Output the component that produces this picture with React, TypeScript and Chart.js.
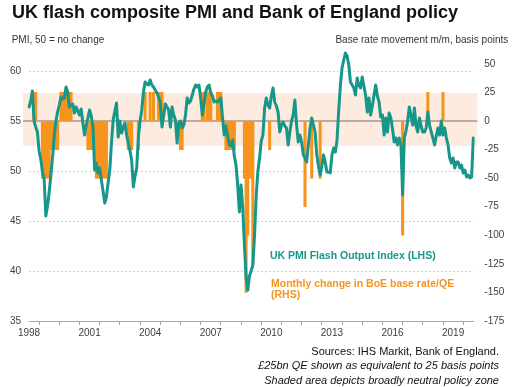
import React, { useEffect, useRef } from 'react';
import { Chart, registerables } from 'chart.js';

Chart.register(...registerables);

// ---------- DATA ----------
const START_YEAR = 1998;

// UK flash composite PMI, monthly from Jan 1998 (LHS)
const PMI_1998_2002: number[] = [
  56.4, 57.0, 58.0, 55.0, 54.4, 53.9, 52.0, 51.2, 49.9, 49.2, 45.5, 46.5,
  47.9, 49.6, 51.4, 53.5, 55.0, 55.9, 56.6, 57.4, 57.2, 57.3, 58.4, 57.9,
  56.4, 56.6, 56.7, 55.8, 56.4, 56.0, 55.6, 56.2, 54.8, 53.6, 54.6, 55.3,
  56.1, 55.5, 54.4, 50.1, 50.8, 49.8, 50.3, 49.1, 48.0, 46.8, 47.4, 48.8,
  50.1, 52.8, 55.1, 56.0, 56.8, 53.4, 55.0, 53.8, 54.4, 54.8, 53.6, 52.8,
];
const PMI_2003_2007: number[] = [
  52.0, 51.1, 48.4, 49.5, 50.3, 53.4, 55.0, 56.1, 57.9, 58.9, 58.7, 58.6,
  59.1, 58.6, 58.4, 58.1, 57.8, 57.4, 56.9, 54.4, 55.5, 56.7, 56.4, 56.1,
  54.4, 56.4, 55.6, 55.1, 52.8, 54.8, 55.0, 54.3, 54.6, 55.6, 57.3, 56.8,
  57.0, 57.6, 58.2, 58.6, 58.4, 58.6, 57.3, 55.6, 56.7, 57.9, 58.4, 58.6,
  57.8, 57.5, 56.9, 57.0, 56.9, 57.1, 57.3, 55.3, 53.6, 54.5, 53.6, 52.6,
];
const PMI_2008_2012: number[] = [
  52.5, 53.1, 51.5, 50.6, 48.6, 45.9, 48.6, 46.3, 42.6, 39.3, 38.1, 39.5,
  40.0, 40.6, 43.5, 47.5, 50.0, 51.3, 53.0, 53.6, 56.3, 57.3, 56.6, 56.3,
  57.5, 58.3, 56.9, 56.5, 55.9, 53.9, 54.6, 54.9, 54.5, 54.3, 52.6, 53.9,
  55.0, 55.6, 57.1, 54.6, 52.9, 53.6, 52.9, 51.6, 51.3, 50.9, 52.6, 54.3,
  55.3, 54.6, 53.9, 51.6, 50.5, 49.6, 50.5, 51.6, 50.9, 49.9, 49.9, 49.8,
];
const PMI_2013_2017: number[] = [
  51.6, 52.3, 51.9, 53.0, 56.0, 58.5, 60.3, 61.1, 61.8, 61.5, 60.6, 58.9,
  58.6, 58.3, 57.6, 59.3, 58.6, 58.3, 59.4, 58.5, 57.6, 55.9, 57.3, 55.6,
  56.5, 57.6, 58.6, 57.5, 56.9, 55.4, 55.6, 53.6, 55.3, 53.9, 55.8, 55.3,
  54.2, 52.9, 53.3, 52.6, 53.3, 52.6, 47.6, 53.3, 54.0, 55.0, 56.4, 55.5,
  54.6, 56.3, 54.5, 53.9, 55.3, 54.5, 53.9, 53.9, 54.3, 55.9, 54.6, 53.9,
];
const PMI_2018_2020: number[] = [
  53.3, 52.6, 53.5, 54.3, 53.6, 55.0, 53.6, 54.3, 53.3, 52.6, 51.3, 50.8,
  51.3, 50.3, 50.9, 50.9, 50.3, 50.6, 49.8, 50.1, 49.4, 49.6, 49.3, 49.4,
  53.3,
];
const PMI: number[] = [
  ...PMI_1998_2002, ...PMI_2003_2007, ...PMI_2008_2012, ...PMI_2013_2017, ...PMI_2018_2020,
];

// Monthly change in BoE base rate / QE, basis points (RHS)
const POLICY_MOVES: [string, number][] = [
  ['1998-04', 25], ['1998-05', 25],
  ['1998-09', -50], ['1998-10', -50], ['1998-11', -50], ['1998-12', -50], ['1999-01', -50],
  ['1999-02', -25], ['1999-03', -25], ['1999-04', -25], ['1999-05', -25], ['1999-06', -25],
  ['1999-08', 25], ['1999-09', 25], ['1999-10', 25], ['1999-11', 25], ['1999-12', 25], ['2000-01', 25], ['2000-02', 25],
  ['2000-12', -25], ['2001-01', -25], ['2001-02', -25], ['2001-03', -25], ['2001-04', -25],
  ['2001-05', -50], ['2001-06', -50], ['2001-07', -50], ['2001-08', -50], ['2001-09', -50], ['2001-10', -50], ['2001-11', -50],
  ['2002-12', -25], ['2003-01', -25], ['2003-02', -25], ['2003-06', -25],
  ['2003-10', 25], ['2004-01', 25], ['2004-03', 25], ['2004-06', 25], ['2004-07', 25], ['2004-08', 25],
  ['2005-07', -25], ['2005-08', -25],
  ['2006-08', 25], ['2006-09', 25], ['2006-11', 25], ['2006-12', 25], ['2007-01', 25],
  ['2007-05', 25], ['2007-06', 25], ['2007-07', 25],
  ['2007-10', -25], ['2007-11', -25], ['2007-12', -25], ['2008-01', -25], ['2008-02', -25], ['2008-03', -25],
  ['2008-09', -50], ['2008-10', -150], ['2008-11', -100], ['2008-12', -50], ['2009-01', -50], ['2009-02', -125],
  ['2009-12', -25],
  ['2011-09', -75], ['2012-01', -50], ['2012-06', -50],
  ['2016-07', -100],
  ['2017-10', 25], ['2018-07', 25],
];

const X_LABEL_YEARS = [1998, 2001, 2004, 2007, 2010, 2013, 2016, 2019];
const LEFT_TICKS = [35, 40, 45, 50, 55, 60];
const RIGHT_TICKS = [-175, -150, -125, -100, -75, -50, -25, 0, 25, 50];
const NEUTRAL_ZONE_PMI = [52.5, 57.8];

// ---------- STYLE ----------
const TEAL = '#17968a';
const ORANGE = '#f7941d';
const BAND = '#fdebdf';
const ZERO_LINE = '#a89888';
const FONT = '"Liberation Sans", Arial, Helvetica, sans-serif';

const MONTHS: string[] = PMI.map((_, i) => {
  const y = START_YEAR + Math.floor(i / 12);
  const m = (i % 12) + 1;
  return `${y}-${m < 10 ? '0' + m : m}`;
});
const MOVE_MAP = new Map<string, number>(POLICY_MOVES);
const POLICY: (number | null)[] = MONTHS.map((mth) => (MOVE_MAP.has(mth) ? (MOVE_MAP.get(mth) as number) : null));

const backgroundPlugin = {
  id: 'bgBandAndZero',
  beforeDraw(chart: any) {
    const { ctx, chartArea, scales } = chart;
    const yL = scales.yL;
    const top = yL.getPixelForValue(NEUTRAL_ZONE_PMI[1]);
    const bot = yL.getPixelForValue(NEUTRAL_ZONE_PMI[0]);
    ctx.save();
    ctx.fillStyle = BAND;
    ctx.fillRect(chartArea.left - 6, top, chartArea.right - chartArea.left + 10, bot - top);
    ctx.restore();
  },
  beforeDatasetsDraw(chart: any) {
    const { ctx, chartArea, scales } = chart;
    const y = scales.yR.getPixelForValue(0);
    ctx.save();
    ctx.strokeStyle = ZERO_LINE;
    ctx.lineWidth = 1.5;
    ctx.beginPath();
    ctx.moveTo(chartArea.left - 6, y);
    ctx.lineTo(chartArea.right + 4, y);
    ctx.stroke();
    ctx.restore();
  },
};

function ChartCanvas() {
  const ref = useRef<HTMLCanvasElement | null>(null);
  useEffect(() => {
    if (!ref.current) return;
    const tickFont = { family: FONT, size: 10 };
    const chart = new Chart(ref.current, {
      type: 'bar',
      data: {
        labels: MONTHS,
        datasets: [
          {
            type: 'line',
            label: 'UK PMI Flash Output Index (LHS)',
            data: PMI,
            yAxisID: 'yL',
            borderColor: TEAL,
            backgroundColor: TEAL,
            borderWidth: 3,
            pointRadius: 0,
            tension: 0,
            borderJoinStyle: 'round',
            borderCapStyle: 'round',
            order: 0,
          } as any,
          {
            type: 'bar',
            label: 'Monthly change in BoE base rate/QE (RHS)',
            data: POLICY,
            yAxisID: 'yR',
            backgroundColor: ORANGE,
            barThickness: 2.4,
            order: 1,
          } as any,
        ],
      },
      options: {
        responsive: false,
        devicePixelRatio: 1,
        animation: false,
        layout: { padding: { top: 51, left: 0, right: 0, bottom: 0 } },
        plugins: { legend: { display: false }, tooltip: { enabled: false }, title: { display: false } },
        scales: {
          x: {
            type: 'category',
            offset: false,
            grid: { drawOnChartArea: false, drawTicks: true, tickLength: 4, color: '#a6a6a6' },
            border: { display: true, color: '#a6a6a6' },
            ticks: {
              autoSkip: false,
              maxRotation: 0,
              minRotation: 0,
              padding: 2,
              font: tickFont,
              color: '#404040',
              callback: (value: any) => {
                const v = Number(value);
                if (v % 12 !== 0) return '';
                const yr = START_YEAR + v / 12;
                return X_LABEL_YEARS.includes(yr) ? String(yr) : '';
              },
            },
            afterBuildTicks: (s: any) => {
              const t: any[] = [];
              for (let i = 0; i < MONTHS.length; i += 12) t.push({ value: i });
              s.ticks = t;
            },
            afterFit: (s: any) => {
              s.height = 66;
            },
          },
          yL: {
            type: 'linear',
            position: 'left',
            min: 35,
            max: 62,
            grid: {
              drawTicks: false,
              color: (c: any) => (c.tick && (c.tick.value === 35 || c.tick.value === 55) ? 'rgba(0,0,0,0)' : '#d2d2d2'),
              lineWidth: 1,
            },
            border: { display: false, dash: [2, 2] },
            ticks: { padding: 8, font: tickFont, color: '#404040' },
            afterBuildTicks: (s: any) => {
              s.ticks = LEFT_TICKS.map((v) => ({ value: v }));
            },
            afterFit: (s: any) => {
              s.width = 29;
            },
          },
          yR: {
            type: 'linear',
            position: 'right',
            min: -175,
            max: 61.25,
            grid: { drawOnChartArea: false, drawTicks: false },
            border: { display: false },
            ticks: { padding: 11, font: tickFont, color: '#404040' },
            afterBuildTicks: (s: any) => {
              s.ticks = RIGHT_TICKS.map((v) => ({ value: v }));
            },
            afterFit: (s: any) => {
              s.width = 47.7;
            },
          },
        },
      } as any,
      plugins: [backgroundPlugin],
    });
    return () => chart.destroy();
  }, []);
  return <canvas ref={ref} width={521} height={387} style={{ position: 'absolute', left: 0, top: 0 }} />;
}

const abs = (extra: React.CSSProperties): React.CSSProperties => ({
  position: 'absolute',
  whiteSpace: 'nowrap',
  fontFamily: FONT,
  margin: 0,
  ...extra,
});

export default function App() {
  return (
    <div style={{ position: 'absolute', left: 0, top: 0, width: 521, height: 387, background: '#fff', overflow: 'hidden' }}>
      <ChartCanvas />
      <div style={abs({ left: 12, top: 3.1, fontSize: 18, lineHeight: '18px', fontWeight: 'bold', color: '#111' })}>
        UK flash composite PMI and Bank of England policy
      </div>
      <div style={abs({ left: 11.7, top: 34.5, fontSize: 10, lineHeight: '10px', color: '#333' })}>PMI, 50 = no change</div>
      <div style={abs({ right: 12.7, top: 34.5, fontSize: 10, lineHeight: '10px', color: '#333' })}>
        Base rate movement m/m, basis points
      </div>
      <div style={abs({ left: 270, top: 250.3, fontSize: 10.5, lineHeight: '10.5px', fontWeight: 'bold', color: TEAL })}>
        UK PMI Flash Output Index (LHS)
      </div>
      <div style={abs({ left: 271, top: 277.8, fontSize: 10.5, lineHeight: '10.7px', fontWeight: 'bold', color: ORANGE })}>
        Monthly change in BoE base rate/QE
        <br />
        (RHS)
      </div>
      <div style={abs({ right: 22, top: 345.7, fontSize: 11, lineHeight: '11px', color: '#111', textAlign: 'right' })}>
        Sources: IHS Markit, Bank of England.
      </div>
      <div style={abs({ right: 22, top: 360, fontSize: 11, lineHeight: '11px', color: '#111', fontStyle: 'italic', textAlign: 'right' })}>
        £25bn QE shown as equivalent to 25 basis points
      </div>
      <div style={abs({ right: 22, top: 374.7, fontSize: 11, lineHeight: '11px', color: '#111', fontStyle: 'italic', textAlign: 'right' })}>
        Shaded area depicts broadly neutral policy zone
      </div>
    </div>
  );
}
